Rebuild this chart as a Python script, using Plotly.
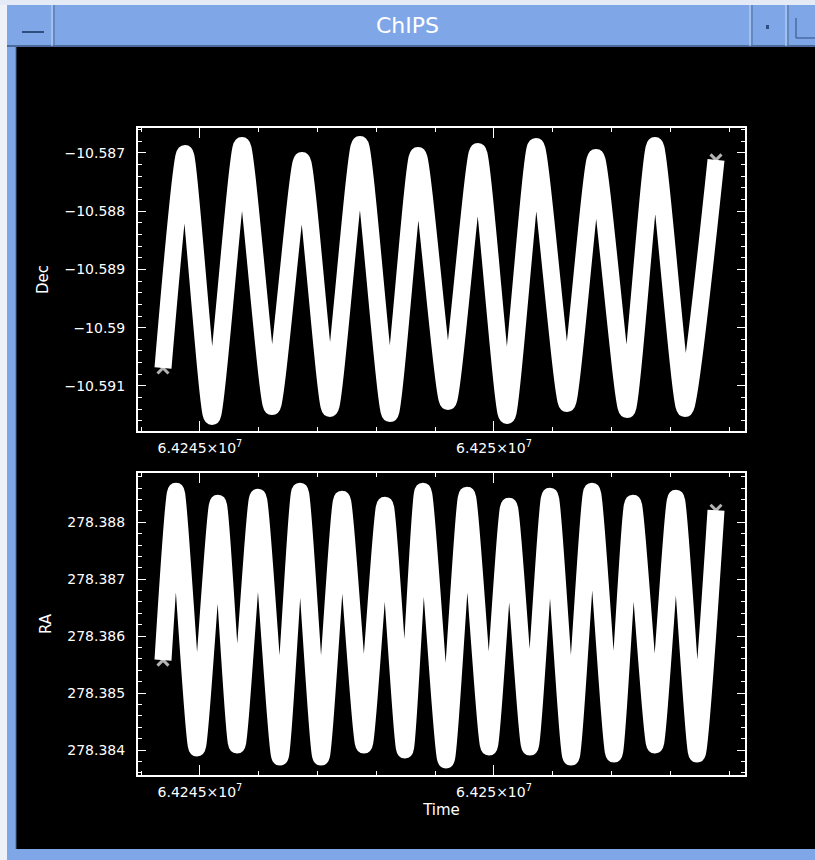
import plotly.graph_objects as go

# ---------------- data ----------------
DEC_TIME = [64244371, 64244745, 64245204, 64245714, 64246225, 64246735, 64247211,
            64247721, 64248231, 64248708, 64249218, 64249728, 64250221, 64250714,
            64251242, 64251735, 64252262, 64252738, 64253248, 64253776]
DEC_VALUE = [-10.590691, -10.587012, -10.591523, -10.586875, -10.591352, -10.587132,
             -10.591386, -10.586858, -10.591472, -10.587046, -10.591266, -10.586978,
             -10.591506, -10.586892, -10.591300, -10.587081, -10.591403, -10.586875,
             -10.591386, -10.587123]

RA_TIME = [64244371, 64244592, 64244949, 64245306, 64245629, 64245986, 64246361,
           64246701, 64247058, 64247415, 64247789, 64248146, 64248486, 64248793,
           64249184, 64249541, 64249915, 64250255, 64250612, 64250952, 64251310,
           64251667, 64252041, 64252364, 64252738, 64253095, 64253452, 64253776]
RA_VALUE = [278.385579, 278.388544, 278.384035, 278.388333, 278.384088, 278.388439,
            278.383877, 278.388544, 278.383877, 278.388404, 278.384088, 278.388298,
            278.384000, 278.388544, 278.383825, 278.388474, 278.384053, 278.388281,
            278.384053, 278.388456, 278.383877, 278.388544, 278.383930, 278.388333,
            278.384088, 278.388421, 278.383930, 278.388211]

X_TICKS = [64245000, 64250000]
X_TICK_TEXT = ["6.4245×10<sup>7</sup>", "6.425×10<sup>7</sup>"]
DEC_TICKS = [-10.587, -10.588, -10.589, -10.590, -10.591]
DEC_TICK_TEXT = ["−10.587", "−10.588", "−10.589", "−10.59", "−10.591"]
RA_TICKS = [278.388, 278.387, 278.386, 278.385, 278.384]
RA_TICK_TEXT = ["278.388", "278.387", "278.386", "278.385", "278.384"]

W, H = 815, 860
FONT = "DejaVu Sans"
BLUE = "#7fa7e8"

def px(x):
    return x / W

def py(y):
    return 1 - y / H

fig = go.Figure()

def band(t, v, xa, ya):
    sizes = [0] * len(t)
    sizes[0] = 11
    sizes[-1] = 11
    fig.add_trace(go.Scatter(
        x=t, y=v, mode="lines+markers", xaxis=xa, yaxis=ya,
        line=dict(color="white", width=17, shape="spline", smoothing=0.5),
        marker=dict(symbol="x-thin", size=sizes, color="white",
                    line=dict(color="white", width=3)),
        showlegend=False, hoverinfo="skip"))

band(DEC_TIME, DEC_VALUE, "x", "y")
band(RA_TIME, RA_VALUE, "x2", "y2")

X_RANGE = [64243946, 64254269]
TICKFONT = dict(family=FONT, size=14, color="white")
xcommon = dict(
    range=X_RANGE, showgrid=False, zeroline=False,
    showline=True, linecolor="white", linewidth=2, mirror="allticks",
    ticks="inside", ticklen=10, tickwidth=1, tickcolor="white",
    tickvals=X_TICKS, ticktext=X_TICK_TEXT,
    tickfont=TICKFONT,
    minor=dict(dtick=1000, tick0=64245000, ticks="inside", ticklen=4,
               tickcolor="white", tickwidth=1, showgrid=False),
    domain=[px(138), px(745)],
    ticklabelstandoff=3,
)
ycommon = dict(
    showgrid=False, zeroline=False,
    showline=True, linecolor="white", linewidth=2, mirror="allticks",
    ticks="inside", ticklen=8, tickwidth=1, tickcolor="white",
    tickfont=TICKFONT,
    ticklabelstandoff=8,
)
TITLEFONT = dict(family=FONT, size=15, color="white")

fig.update_layout(
    width=W, height=H,
    margin=dict(l=0, r=0, t=0, b=0),
    paper_bgcolor="black", plot_bgcolor="black",
    hovermode=False,
    xaxis=dict(**xcommon, anchor="y"),
    xaxis2=dict(**xcommon, anchor="y2",
                title=dict(text="Time", font=TITLEFONT, standoff=6)),
    yaxis=dict(**ycommon, anchor="x", domain=[py(431), py(128)],
               range=[-10.591772, -10.586576],
               tickvals=DEC_TICKS, ticktext=DEC_TICK_TEXT,
               minor=dict(dtick=0.0002, tick0=-10.587, ticks="inside", ticklen=4,
                          tickcolor="white", tickwidth=1, showgrid=False),
               title=dict(text="Dec", font=TITLEFONT, standoff=12)),
    yaxis2=dict(**ycommon, anchor="x2", domain=[py(775), py(473)],
                range=[278.383561, 278.388865],
                tickvals=RA_TICKS, ticktext=RA_TICK_TEXT,
                minor=dict(dtick=0.0002, tick0=278.384, ticks="inside", ticklen=4,
                           tickcolor="white", tickwidth=1, showgrid=False),
                title=dict(text="RA", font=TITLEFONT, standoff=12)),
)

# ---------------- window chrome ----------------
shapes = []
def rect(x0, y0, x1, y1, fill):
    shapes.append(dict(type="rect", xref="paper", yref="paper",
                       x0=px(x0), x1=px(x1), y0=py(y1), y1=py(y0),
                       fillcolor=fill, line=dict(width=0), layer="above"))

def seg(x0, y0, x1, y1, color, width=1):
    shapes.append(dict(type="line", xref="paper", yref="paper",
                       x0=px(x0), x1=px(x1), y0=py(y0), y1=py(y1),
                       line=dict(color=color, width=width), layer="above"))

rect(0, 0, 815, 5, "#e4ebf6")           # top highlight
rect(0, 5, 7, 860, "#eef2f8")           # outer left edge
rect(7, 5, 815, 46, BLUE)               # title bar
rect(7, 46, 16, 860, BLUE)              # left border
rect(7, 849, 815, 860, BLUE)            # bottom border
seg(7, 46, 815, 46, "#4a6a9a", 2)
seg(52, 5, 52, 46, "#c8d8f2", 1)
seg(54, 5, 54, 46, "#4a6a9a", 1)
seg(750, 5, 750, 46, "#c8d8f2", 1)
seg(752, 5, 752, 46, "#4a6a9a", 1)
seg(786, 5, 786, 46, "#c8d8f2", 1)
seg(788, 5, 788, 46, "#4a6a9a", 1)
seg(22, 32, 44, 32, "#2f4f80", 2)       # minimise glyph
rect(766, 25, 769, 29, "#2f4f80")       # small dot button
seg(796, 18, 796, 38, "#2f4f80", 1)
seg(796, 38, 815, 38, "#2f4f80", 1)
seg(16, 46, 16, 849, "#4a6a9a", 1)

fig.update_layout(shapes=shapes)
fig.add_annotation(text="ChIPS", xref="paper", yref="paper", x=px(407), y=py(26),
                   xanchor="center", yanchor="middle",
                   showarrow=False, font=dict(family=FONT, size=22, color="white"))

fig.write_html("out.html",
               config={"displayModeBar": False, "staticPlot": True},
               post_script="document.body.style.margin='0';"
                           "document.body.style.overflow='hidden';")
